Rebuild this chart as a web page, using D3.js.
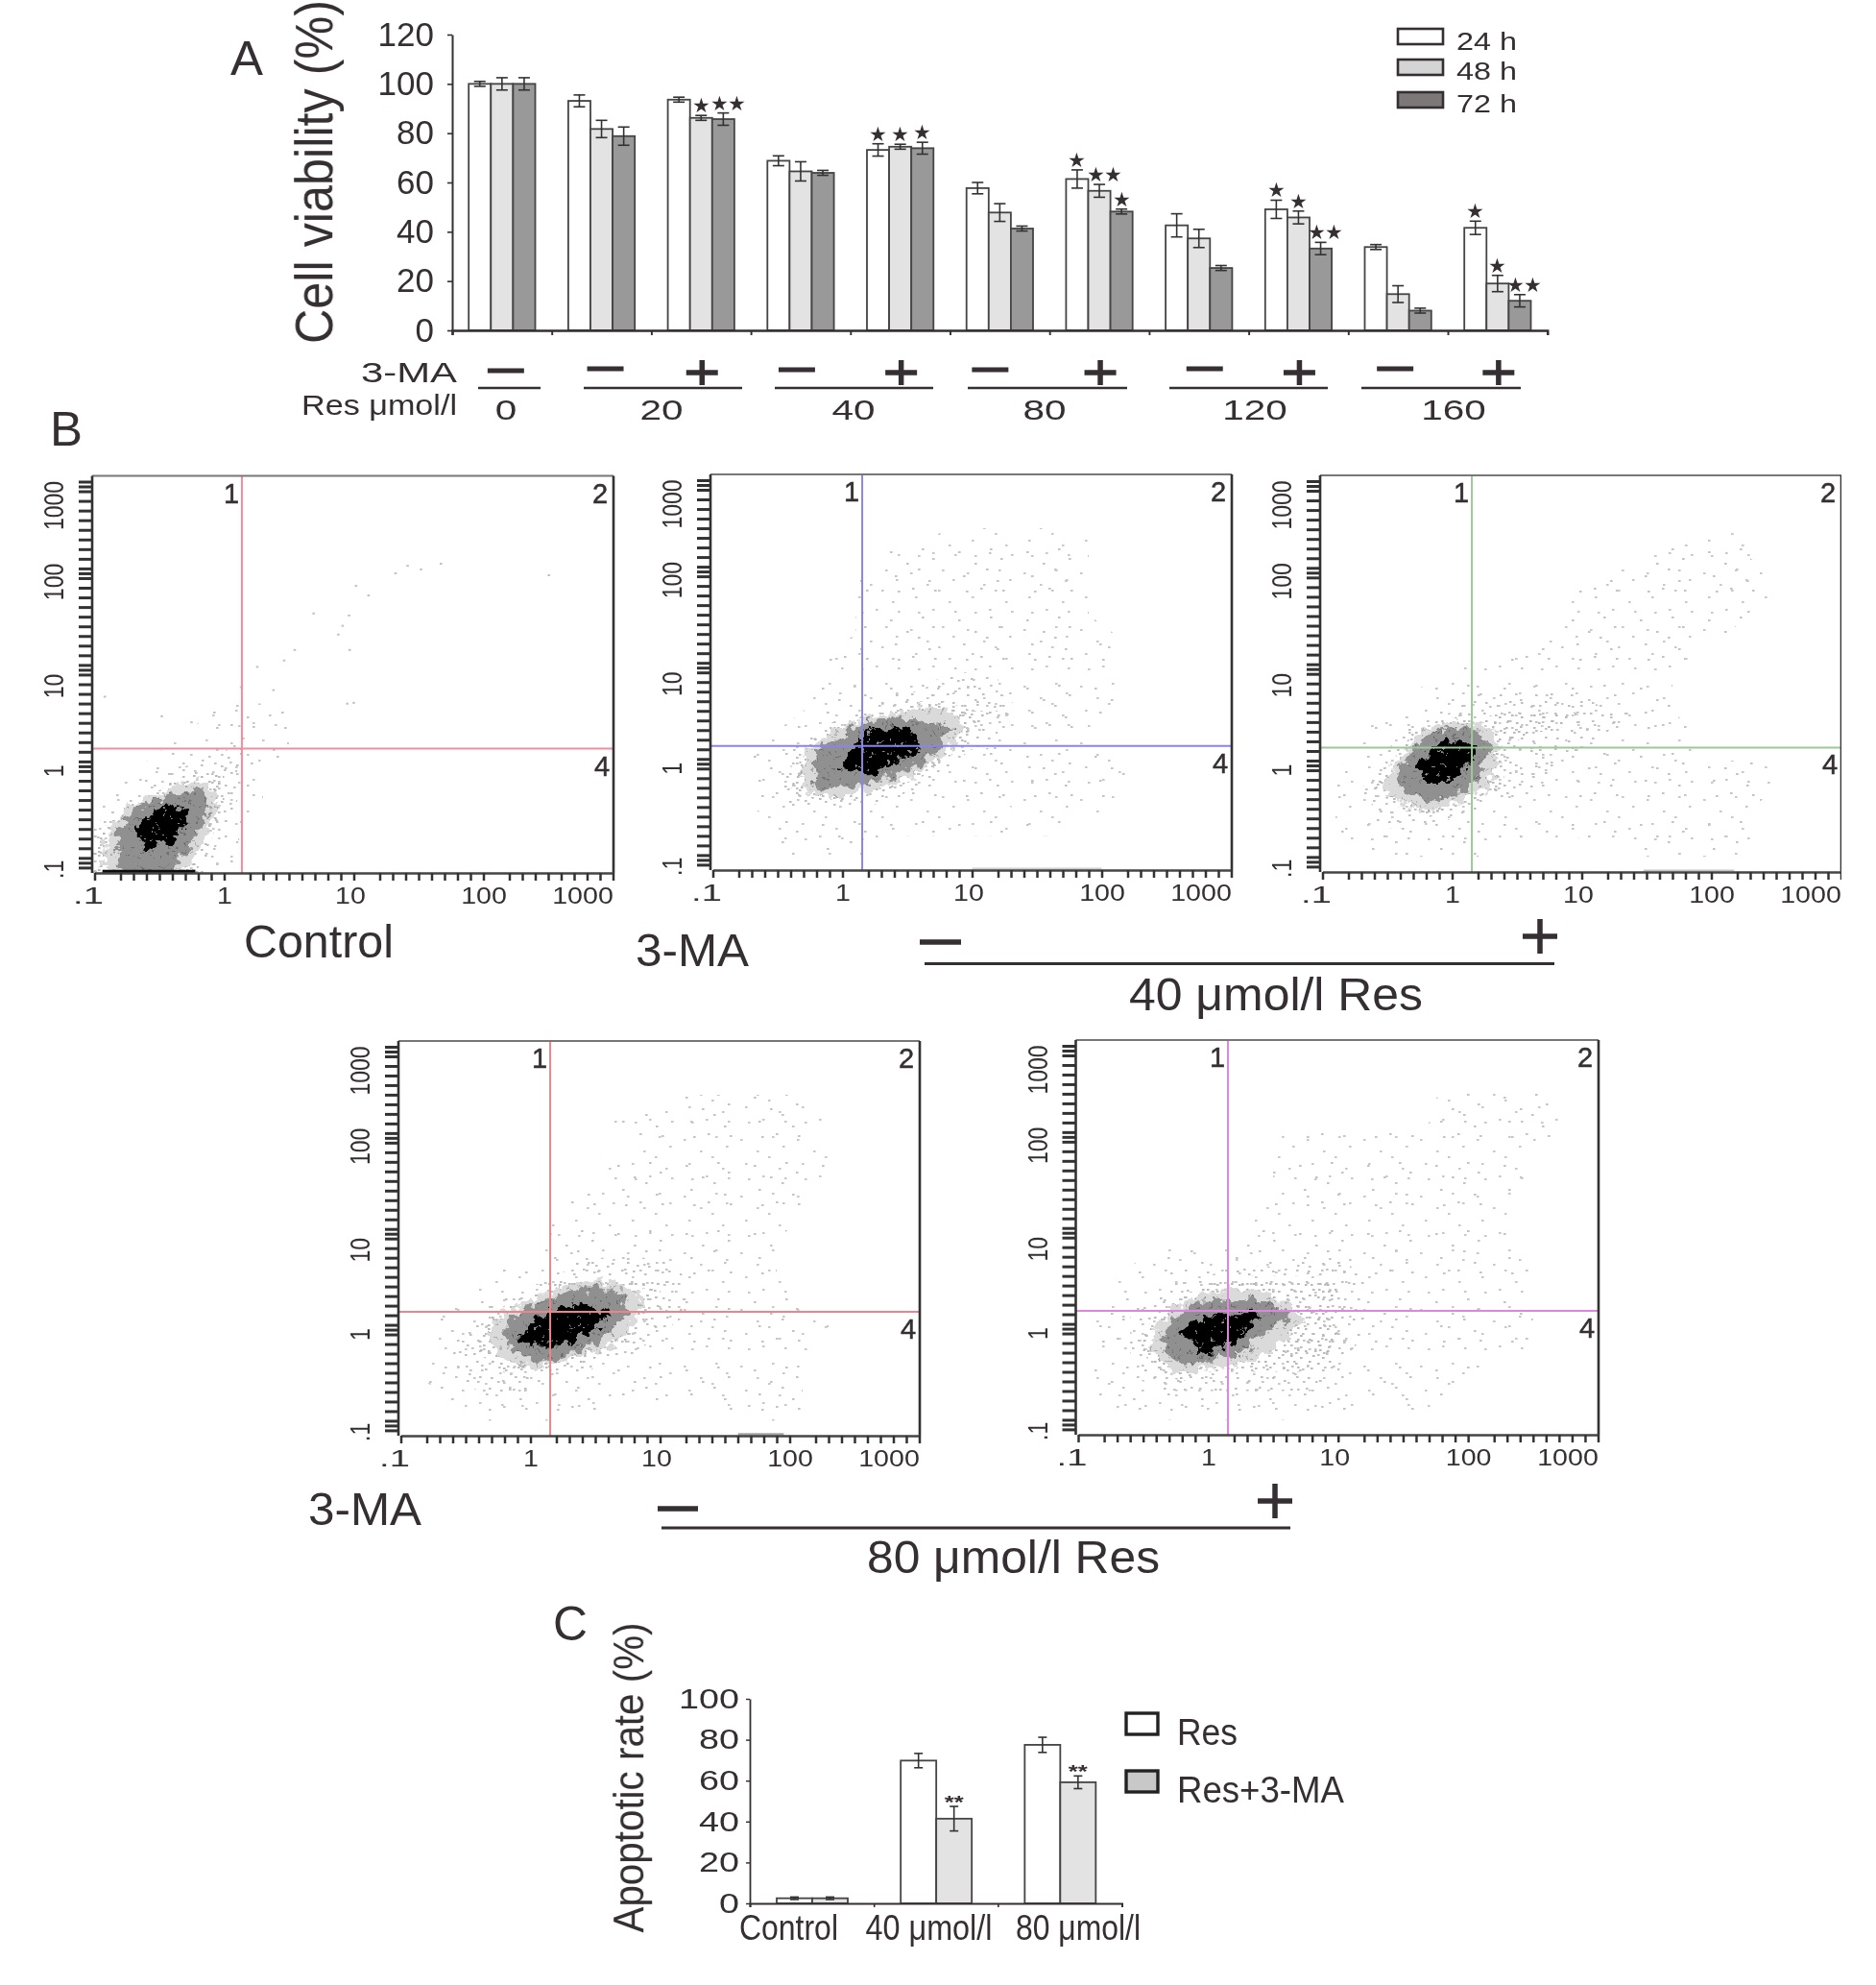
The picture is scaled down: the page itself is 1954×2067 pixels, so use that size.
<!DOCTYPE html>
<html>
<head>
<meta charset="utf-8">
<script src="https://cdn.jsdelivr.net/npm/d3@7"></script>
<style>
body { margin: 0; background: #fff; }
text { font-family: "Liberation Sans", Arial, sans-serif; fill: #352f31; }
</style>
</head>
<body>
<svg id="fig" width="1954" height="2067"></svg>
<script>
// panel A - cell viability
var timeSeries = ["24 h", "48 h", "72 h"];
var viabilityGroups = ["0-", "20-", "20+", "40-", "40+", "80-", "80+", "120-", "120+", "160-", "160+"];
var viability24 = [100, 93.1, 93.6, 68.8, 73.2, 57.7, 61.4, 42.6, 49.1, 33.8, 41.6];
var viability48 = [100, 81.7, 86.2, 64.5, 74.5, 47.8, 56.6, 37.3, 45.8, 14.7, 19];
var viability72 = [100, 78.8, 85.7, 63.9, 73.9, 41.3, 48.2, 25.3, 33.2, 8, 12];
var error24 = [1, 2.4, 1, 2, 2.5, 2.3, 3.7, 4.7, 3.7, 1, 2.7];
var error48 = [2.5, 3.5, 1, 3.9, 1, 3.6, 2.6, 3.7, 2.6, 3.4, 3.3];
var error72 = [2.5, 3.7, 2.5, 1, 2.4, 1, 1, 1, 2.5, 1, 2.5];
var stars24 = [0, 0, 0, 0, 1, 0, 1, 0, 1, 0, 1];
var stars48 = [0, 0, 1, 0, 1, 0, 2, 0, 1, 0, 1];
var stars72 = [0, 0, 2, 0, 1, 0, 1, 0, 2, 0, 2];
var viabilityTicks = [0, 20, 40, 60, 80, 100, 120];
var maSigns = ["−", "−", "+", "−", "+", "−", "+", "−", "+", "−", "+"];
var doseLabels = ["0", "20", "40", "80", "120", "160"];

// panel B - flow plots, density on a 0.2 decade grid
// (top row is 10^3, first column is 10^-1, 0 empty .. 9 black)
var flowTicksMajor = [0.1, 1, 10, 100, 1000];
var flowTickLabels = [".1", "1", "10", "100", "1000"];
var gridControl = ["", "", "", "", "", "", "", "", "", "", "", "",
  "00000222", "00002232", "00022332", "0023442", "0235642", "2479742", "369963", "468752", "467642"];
var gridRes40 = ["", "", "",
  "000000000222222", "000000022222222", "000000222222222", "000000222222222", "000000222222222",
  "0000002222222222", "0000022222222222", "0000022223332222", "0000222333332222",
  "0000223455443322", "000235897643222", "0023679985332222", "00236897532222222",
  "0024665432222222", "0023333222202222", "00022222222222", "0002222", ""];
var gridRes40MA = ["", "", "",
  "00000000000000222", "00000000000002222", "000000000002222222", "000000000022222222",
  "00000000002222222", "0000000002222222", "000000002222222", "00000222222222",
  "00002233333222", "00002334444332", "002357644433222", "002489843332222",
  "023699643322222222", "024677543222222222", "02345432222222222", "02333222222222222",
  "00222220000022222", ""];
var gridRes80 = ["", "", "",
  "0000000000022222", "00000000222222222", "00000000002222222", "00000000222222222",
  "00000000222222222", "0000000222222222", "0000002222222222", "000000222222222",
  "000000233332222", "000022344443222", "0002346775432222", "00235799853322222",
  "00246998643222222", "0034577543222222", "0233443322222222", "0023332222222222",
  "0002222200000222", ""];
var gridRes80MA = ["", "", "",
  "0000000000000022222", "0000000000000022222", "0000000022222222222", "000000002222222222",
  "000000002222222222", "00000000222222222", "00000002222222222", "00000002222222222",
  "000222222332222222", "002233444443222222", "002345554443222222", "023468886443222222",
  "023589965443222222", "023578654442222222", "0234544444322222", "022333333322222",
  "00222222222002", ""];
var strayControl = [[0.12, 5.9], [0.33, 3.7], [0.56, 3.2], [1.35, 7.4], [1.8, 12], [2.4, 6.9], [2.9, 14], [3.5, 18],
  [4.9, 43], [7.6, 26], [8.2, 32], [9.2, 41], [9.3, 18], [8.9, 5], [10, 5.1], [10.4, 83], [13, 66], [21, 112],
  [26, 134], [33, 123], [47, 141], [320, 107]];

// panel C - apoptotic rate
var apoptosisGroups = ["Control", "40 μmol/l", "80 μmol/l"];
var apoptosisSeries = ["Res", "Res+3-MA"];
var apoptosisRes = [2.5, 69.8, 77.5];
var apoptosisResMA = [2.5, 41.4, 59.2];
var apoptosisErrRes = [0.6, 3.5, 3.7];
var apoptosisErrResMA = [0.6, 6, 3.1];
var apoptosisStars = [0, 2, 2];
var apoptosisTicks = [0, 20, 40, 60, 80, 100];

var svg = d3.select("#fig");
var defs = svg.append("defs");
defs.append("filter").attr("id", "soft").attr("x", 0).attr("y", 0).attr("width", 1).attr("height", 1)
  .append("feGaussianBlur").attr("stdDeviation", 0.55);
var root = svg.append("g").attr("filter", "url(#soft)");

var INK = "#352f31";

function label(x, y, str, size, width, anchor) {
  var t = root.append("text").attr("x", x).attr("y", y).attr("font-size", size)
    .attr("text-anchor", anchor || "start").text(str);
  if (width) t.attr("textLength", width).attr("lengthAdjust", "spacingAndGlyphs");
  return t;
}

function rotatedLabel(x, y, str, size, xStretch, width) {
  var t = root.append("text").attr("text-anchor", "middle").attr("font-size", size)
    .attr("transform", "translate(" + x + "," + y + ") scale(" + xStretch + ",1) rotate(-90)").text(str);
  if (width) t.attr("textLength", width).attr("lengthAdjust", "spacingAndGlyphs");
}

function rule(x1, x2, y, w) {
  root.append("line").attr("x1", x1).attr("x2", x2).attr("y1", y).attr("y2", y)
    .attr("stroke", INK).attr("stroke-width", w);
}

function plusSign(cx, cy, halfW, halfH, w) {
  rule(cx - halfW, cx + halfW, cy, w);
  root.append("line").attr("x1", cx).attr("x2", cx).attr("y1", cy - halfH).attr("y2", cy + halfH)
    .attr("stroke", INK).attr("stroke-width", w);
}

function styleAxis(g, w) {
  g.selectAll("path").attr("stroke", INK).attr("stroke-width", w);
  g.selectAll("line").attr("stroke", INK).attr("stroke-width", w * 0.8);
}

// -------- panel A
label(240, 78, "A", 50, 34);
rotatedLabel(346, 179, "Cell viability (%)", 50, 1.1, 358);

var yA = d3.scaleLinear().domain([0, 120]).range([344, 36]);
var xTickA = d3.scaleLinear().domain([0, 11]).range([471, 1611.7]);
var xA = d3.scaleBand().domain(viabilityGroups).range([471, 1611.7]);
var xSubA = d3.scaleBand().domain(timeSeries).range([17.2, 86.5]);
var fillsA = ["#ffffff", "#e3e3e3", "#999999"];

var axisYA = root.append("g").attr("transform", "translate(471,0)")
  .call(d3.axisLeft(yA).tickValues(viabilityTicks).tickSize(5).tickPadding(14).tickSizeOuter(0));
axisYA.selectAll("text").attr("font-size", 35).attr("font-family", "Liberation Sans");

var seriesA = [
  { name: timeSeries[0], v: viability24, e: error24, s: stars24, fill: fillsA[0] },
  { name: timeSeries[1], v: viability48, e: error48, s: stars48, fill: fillsA[1] },
  { name: timeSeries[2], v: viability72, e: error72, s: stars72, fill: fillsA[2] }
];

function drawBars(series, groups, x, xSub, y, capHalf, drawStars) {
  series.forEach(function (ser) {
    var bx = function (i) { return x(groups[i]) + xSub(ser.name); };
    var w = xSub.bandwidth();
    var g = root.append("g");
    g.selectAll("rect").data(ser.v).enter().append("rect")
      .attr("x", function (d, i) { return bx(i); })
      .attr("y", function (d) { return y(d); })
      .attr("width", w)
      .attr("height", function (d) { return y(0) - y(d); })
      .attr("fill", ser.fill).attr("stroke", "#444").attr("stroke-width", 1.8);
    ser.v.forEach(function (d, i) {
      var cx = bx(i) + w / 2;
      var e = ser.e[i];
      g.append("line").attr("x1", cx).attr("x2", cx).attr("y1", y(d - e)).attr("y2", y(d + e))
        .attr("stroke", "#333").attr("stroke-width", 1.6);
      [d - e, d + e].forEach(function (v) {
        g.append("line").attr("x1", cx - capHalf).attr("x2", cx + capHalf).attr("y1", y(v)).attr("y2", y(v))
          .attr("stroke", "#333").attr("stroke-width", 1.6);
      });
      drawStars(cx, y(d + e), ser.s[i]);
    });
  });
}

drawBars(seriesA, viabilityGroups, xA, xSubA, yA, 6, function (cx, top, n) {
  if (n == 1) label(cx, top - 3, "★", 21, 0, "middle");
  if (n == 2) {
    label(cx - 4, top - 3, "★", 21, 0, "middle");
    label(cx + 14, top - 3, "★", 21, 0, "middle");
  }
});

var axisXA = root.append("g").attr("transform", "translate(0,344)")
  .call(d3.axisBottom(xTickA).tickValues(d3.range(12)).tickSize(5).tickFormat(""));
styleAxis(axisXA, 2.4);
styleAxis(axisYA, 2);

// legend A
timeSeries.forEach(function (s, i) {
  var top = [30, 62, 96][i];
  root.append("rect").attr("x", 1456).attr("y", top).attr("width", 47).attr("height", 16)
    .attr("fill", ["#fff", "#d4d4d4", "#7d7878"][i]).attr("stroke", INK).attr("stroke-width", 2.6);
  label(1517, [52, 83, 117][i], s, 25, 63);
});

// 3-MA and dose rows under panel A
label(376, 398, "3-MA", 29, 100);
label(314, 432, "Res μmol/l", 30, 162);
var minusNudge = [4, 4, 0, -4, 0, -10, 0, 6, 0, -3, 0];
var minusRow = [386, 384, 0, 385, 0, 385, 0, 384, 0, 384, 0];
maSigns.forEach(function (sign, i) {
  var cx = xA(viabilityGroups[i]) + xA.bandwidth() / 2;
  if (sign == "+") {
    plusSign(cx + 1, 388, 16.5, 13, 5.5);
  } else {
    rule(cx - 19 + minusNudge[i], cx + 19 + minusNudge[i], minusRow[i], 4.8);
  }
});
var doseRules = [[498, 563, 527], [608, 773, 689], [807, 972, 889], [1008, 1174, 1088], [1218, 1383, 1307], [1418, 1584, 1514]];
doseLabels.forEach(function (d, i) {
  rule(doseRules[i][0], doseRules[i][1], 404, 2.4);
  label(doseRules[i][2], 437, d, 30, d.length * 22.5, "middle");
});

// -------- panel B
label(52, 464, "B", 50, 34);

// tile dots for the speckled density bands, two tile sizes per band so no rows show
var speckleSparse = [[4, 6], [37, 3], [21, 18], [48, 13], [9, 31], [44, 36], [27, 44], [12, 47], [33, 24], [50, 46]];
var speckleMid = [[3, 4], [15, 11], [28, 2], [24, 19], [8, 20], [18, 27], [30, 28], [5, 31], [12, 3]];
var speckleThick = [[2, 3], [10, 8], [17, 2], [6, 14], [15, 16], [20, 10]];
var speckleDense = [[2, 3], [11, 8], [19, 2], [6, 14], [16, 17], [22, 11]];
var speckleCore = [[3, 5], [14, 2], [9, 13], [19, 16]];

function tile(id, size, dots, dotFill, background) {
  var p = defs.append("pattern").attr("id", id).attr("patternUnits", "userSpaceOnUse")
    .attr("width", size).attr("height", size);
  if (background) p.append("rect").attr("width", size).attr("height", size).attr("fill", background);
  dots.forEach(function (d) {
    p.append("rect").attr("x", d[0]).attr("y", d[1]).attr("width", 2.6).attr("height", 2)
      .attr("fill", dotFill);
  });
}
tile("lev1", 71, speckleSparse, "#c4c4c4");
tile("lev1b", 59, speckleSparse, "#c9c9c9");
tile("lev3", 37, speckleMid, "#c0c0c0");
tile("lev3b", 43, speckleMid, "#c4c4c4");
tile("lev4", 23, speckleThick, "#b8b8b8");
tile("lev4b", 29, speckleThick, "#bcbcbc");
tile("lev5", 25, speckleDense, "#acacac", "#dadada");
tile("lev7", 25, speckleDense, "#6e6e6e", "#909090");
tile("lev9", 24, speckleCore, "#8a8a8a", "#000000");

var flowLevels = [1, 3, 4, 4.7, 5.8, 7.8];
var flowFills = [["url(#lev1)", "url(#lev1b)"], ["url(#lev3)", "url(#lev3b)"], ["url(#lev4)", "url(#lev4b)"],
  ["url(#lev5)"], ["url(#lev7)"], ["url(#lev9)"]];

var flowPanels = [
  { id: "c", left: 96, right: 639, top: 495.5, bottom: 909, grid: gridControl, line: "#f58c9c", qx: 1.37, qy: 1.71, stray: strayControl, pile: [0.115, 0.6, "#111", 3.5] },
  { id: "a", left: 740, right: 1283, top: 494, bottom: 906, grid: gridRes40, line: "#8b84ea", qx: 1.42, qy: 1.72, stray: [], pile: [10, 100, "#cfcfcf", 2] },
  { id: "b", left: 1375, right: 1918, top: 495, bottom: 908, grid: gridRes40MA, line: "#9cc89c", qx: 1.42, qy: 1.72, stray: [], pile: [30, 150, "#c5c5c5", 2] },
  { id: "d", left: 415, right: 958, top: 1084, bottom: 1495, grid: gridRes80, line: "#e8868c", qx: 1.42, qy: 1.72, stray: [], pile: [40, 90, "#a5a5a5", 2.5] },
  { id: "e", left: 1120.5, right: 1665, top: 1083, bottom: 1494, grid: gridRes80MA, line: "#dd88dd", qx: 1.42, qy: 1.72, stray: [], pile: null }
];

var xMinor = [], yMinor = [];
[0.1, 1, 10, 100].forEach(function (dec) {
  d3.range(0, 10).forEach(function (i) {
    if (i != 1) xMinor.push(dec * Math.pow(10, i / 10));
    yMinor.push(dec * Math.pow(10, i / 10));
  });
  yMinor.push(dec * Math.pow(10, 0.05));
});
xMinor.push(1000);
yMinor.push(1000, 1000 * Math.pow(10, -0.05));

// displacement only, gives the solid density bands a rough edge
function roughFilter(id, freq, octaves, scale, seed) {
  var f = defs.append("filter").attr("id", id).attr("x", "-5%").attr("y", "-5%")
    .attr("width", "110%").attr("height", "110%");
  f.append("feTurbulence").attr("type", "fractalNoise").attr("baseFrequency", freq)
    .attr("numOctaves", octaves).attr("seed", seed).attr("result", "noise");
  f.append("feDisplacementMap").attr("in", "SourceGraphic").attr("in2", "noise")
    .attr("scale", scale).attr("xChannelSelector", "R").attr("yChannelSelector", "G");
}

function flowPlot(p, panelIndex) {
  var g = root.append("g");
  var x = d3.scaleLog().domain([0.1, 1000]).range([p.left + 2.5, p.right - 0.5]);
  var y = d3.scaleLog().domain([0.1, 1000]).range([p.bottom - 5.6, p.top + 6]);

  var clipId = "clip-" + p.id;
  defs.append("clipPath").attr("id", clipId).append("rect")
    .attr("x", p.left).attr("y", p.top).attr("width", p.right - p.left).attr("height", p.bottom - p.top);
  var plot = g.append("g").attr("clip-path", "url(#" + clipId + ")");

  roughFilter("rough-" + p.id, 0.11, 3, 20, panelIndex + 9);

  var values = [];
  p.grid.forEach(function (row) {
    row.padEnd(21, "0").split("").forEach(function (c) { values.push(+c); });
  });
  var bands = d3.contours().size([21, 21]).smooth(true).thresholds(flowLevels)(values);
  var project = d3.geoPath(d3.geoTransform({
    point: function (gx, gy) {
      this.stream.point(x(Math.pow(10, -1 + 0.2 * (gx - 0.5))), y(Math.pow(10, 3 - 0.2 * (gy - 0.5))));
    }
  }));
  // sparse bands stay plain dots, the solid ones get the rough edge
  var sparse = plot.append("g");
  var solid = plot.append("g").attr("filter", "url(#rough-" + p.id + ")");
  bands.forEach(function (band, i) {
    flowFills[i].forEach(function (fill) {
      (i < 3 ? sparse : solid).append("path").attr("d", project(band)).attr("fill", fill);
    });
  });

  plot.selectAll("rect.stray").data(p.stray).enter().append("rect").attr("class", "stray")
    .attr("x", function (d) { return x(d[0]) - 1.3; })
    .attr("y", function (d) { return y(d[1]) - 1; })
    .attr("width", 2.6).attr("height", 2).attr("fill", "#c2c2c2");

  if (p.pile) {
    plot.append("line").attr("x1", x(p.pile[0])).attr("x2", x(p.pile[1]))
      .attr("y1", p.bottom - 1.5).attr("y2", p.bottom - 1.5)
      .attr("stroke", p.pile[2]).attr("stroke-width", p.pile[3]);
  }

  // quadrant gates
  plot.append("line").attr("x1", x(p.qx)).attr("x2", x(p.qx)).attr("y1", p.top).attr("y2", p.bottom)
    .attr("stroke", p.line).attr("stroke-width", 2);
  plot.append("line").attr("x1", p.left).attr("x2", p.right).attr("y1", y(p.qy)).attr("y2", y(p.qy))
    .attr("stroke", p.line).attr("stroke-width", 2);

  // frame
  g.append("line").attr("x1", p.left).attr("x2", p.right).attr("y1", p.top).attr("y2", p.top)
    .attr("stroke", "#777").attr("stroke-width", 2);
  g.append("line").attr("x1", p.right).attr("x2", p.right).attr("y1", p.top).attr("y2", p.bottom)
    .attr("stroke", "#333").attr("stroke-width", 2.6);
  g.append("line").attr("x1", p.left).attr("x2", p.left).attr("y1", p.top).attr("y2", p.bottom)
    .attr("stroke", "#333").attr("stroke-width", 2.6);

  var labelOf = function (d) {
    var i = flowTicksMajor.indexOf(d);
    return i >= 0 ? flowTickLabels[i] : "";
  };
  var xAxis = g.append("g").attr("transform", "translate(0," + p.bottom + ")")
    .call(d3.axisBottom(x).tickValues(xMinor).tickSize(8).tickPadding(8).tickFormat(labelOf).tickSizeOuter(0));
  var xShift = { ".1": -7, "1": 0, "10": -4, "100": 0, "1000": -32 };
  xAxis.selectAll("text").attr("font-size", 23).attr("font-family", "Liberation Sans")
    .attr("dx", function () { return xShift[d3.select(this).text()] || 0; })
    .each(function () {
      var n = d3.select(this).text().length;
      if (n) d3.select(this).attr("textLength", n * 15.9).attr("lengthAdjust", "spacingAndGlyphs");
    });
  xAxis.selectAll("path").attr("stroke", "#444").attr("stroke-width", 2.4);
  xAxis.selectAll("line").attr("stroke", "#333").attr("stroke-width", 2.5);

  var yAxis = g.append("g").attr("transform", "translate(" + p.left + ",0)")
    .call(d3.axisLeft(y).tickValues(yMinor).tickSize(14).tickFormat("").tickSizeOuter(0));
  yAxis.selectAll("path").attr("stroke", "none");
  yAxis.selectAll("line").attr("stroke", "#333").attr("stroke-width", 3);

  var yShift = { ".1": 2, "1": 0, "10": 12, "100": 4, "1000": 25 };
  flowTickLabels.forEach(function (s, i) {
    g.append("text").attr("text-anchor", "middle").attr("font-size", 23)
      .attr("transform", "translate(" + (p.left - 30) + "," + (y(flowTicksMajor[i]) + yShift[s]) + ") scale(1.3,1) rotate(-90)")
      .attr("fill", "#444").text(s);
  });

  // quadrant numbers
  var qNum = function (qx, qy, s) {
    g.append("text").attr("x", qx).attr("y", qy).attr("font-size", 29).attr("text-anchor", "middle")
      .attr("stroke", INK).attr("stroke-width", 0.5).text(s);
  };
  qNum(x(p.qx) - 11, p.top + 28, "1");
  qNum(p.right - 14, p.top + 28, "2");
  qNum(p.right - 12, y(p.qy) + 28, "4");
}
flowPanels.forEach(flowPlot);

label(254, 997, "Control", 48, 156);
label(662, 1006, "3-MA", 48, 118);
rule(958, 1001, 981, 5.5);
rule(963, 1619, 1003.5, 3);
plusSign(1604, 975, 18, 18, 5.5);
label(1176, 1052, "40 μmol/l Res", 48, 306);

label(321, 1588, "3-MA", 48, 118);
rule(685, 727, 1571, 5.5);
rule(689, 1344, 1591, 3);
plusSign(1328, 1563, 18, 18, 5.5);
label(903, 1638, "80 μmol/l Res", 48, 305);

// -------- panel C
label(576, 1708, "C", 50, 36);
rotatedLabel(670, 1851, "Apoptotic rate (%)", 40, 1.1, 323);

var yC = d3.scaleLinear().domain([0, 100]).range([1982, 1769]);
var xTickC = d3.scaleLinear().domain([0, 3]).range([781, 1168.5]);
var xC = d3.scaleBand().domain(apoptosisGroups).range([781, 1168.5]);
var xSubC = d3.scaleBand().domain(apoptosisSeries).range([28, 102]);

drawBars([
  { name: apoptosisSeries[0], v: apoptosisRes, e: apoptosisErrRes, s: [0, 0, 0], fill: "#ffffff" },
  { name: apoptosisSeries[1], v: apoptosisResMA, e: apoptosisErrResMA, s: apoptosisStars, fill: "#e3e3e3" }
], apoptosisGroups, xC, xSubC, yC, 4.5, function (cx, top, n) {
  if (n == 2) label(cx, top + 2, "**", 18, 20, "middle").attr("font-weight", "bold");
});

var axisYC = root.append("g").attr("transform", "translate(781,0)")
  .call(d3.axisLeft(yC).tickValues(apoptosisTicks).tickSize(4).tickPadding(7).tickSizeOuter(0));
axisYC.selectAll("text").attr("font-size", 29).attr("font-family", "Liberation Sans")
  .each(function () {
    d3.select(this).attr("textLength", d3.select(this).text().length * 21).attr("lengthAdjust", "spacingAndGlyphs");
  });
styleAxis(axisYC, 1.8);

var axisXC = root.append("g").attr("transform", "translate(0,1982)")
  .call(d3.axisBottom(xTickC).tickValues([0, 1, 2, 3]).tickSize(4).tickFormat(""));
styleAxis(axisXC, 2);

label(770, 2020, "Control", 36, 103);
label(901.5, 2020, "40 μmol/l", 36, 132);
label(1058, 2020, "80 μmol/l", 36, 130);

apoptosisSeries.forEach(function (s, i) {
  root.append("rect").attr("x", 1173).attr("y", [1784, 1844][i]).attr("width", 33).attr("height", 22)
    .attr("fill", ["#fff", "#c8c8c8"][i]).attr("stroke", "#222").attr("stroke-width", 3.4);
  label(1226, [1817, 1877][i], s, 38, [63, 174][i]);
});
</script>
</body>
</html>
